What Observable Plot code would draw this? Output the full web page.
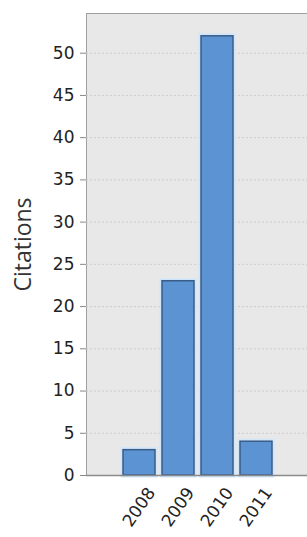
<!DOCTYPE html>
<html>
<head>
<meta charset="utf-8">
<script src="https://cdn.jsdelivr.net/npm/d3@7"></script>
<script src="https://cdn.jsdelivr.net/npm/@observablehq/plot@0.6"></script>
<style>
  html, body { margin: 0; padding: 0; background: #fff; }
  #chart svg { display: block; }
</style>
</head>
<body>
<div id="chart"></div>
<script>
const years = ["2008", "2009", "2010", "2011"];
const citations = [3, 23, 52, 4];
const yTicks = [0, 5, 10, 15, 20, 25, 30, 35, 40, 45, 50];
const yLabel = "Citations";

const data = years.map((year, i) => ({year, citations: citations[i]}));

const chart = Plot.plot({
  width: 307,
  height: 537,
  marginLeft: 86,
  marginRight: -1,
  marginTop: 13,
  marginBottom: 62,
  style: {background: "#fff", fontFamily: "DejaVu Sans", fontSize: "17px", color: "#222"},
  x: {domain: years, paddingInner: 0.19, paddingOuter: 0.885, label: null},
  y: {domain: [0, 54.7], label: null},
  marks: [
    Plot.frame({fill: "#e8e8e8", stroke: "#a0a0a0"}),
    Plot.gridY(yTicks, {stroke: "#cdcdcd", strokeOpacity: 1, strokeDasharray: "2,2"}),
    Plot.barY(data, {x: "year", y: "citations", fill: "none", stroke: "#d2e6fa", strokeWidth: 5}),
    Plot.barY(data, {x: "year", y: "citations", fill: "#5b93d3", stroke: "#3a5d88", strokeWidth: 1.5}),
    Plot.ruleY([0], {stroke: "#8a8a8a", strokeWidth: 1.5}),
    Plot.axisY(yTicks, {
      tickSize: 6, tickPadding: 6, stroke: "#888",
      fontSize: 17, fill: "#222",
      label: yLabel, labelAnchor: "center", labelArrow: "none", labelOffset: 72
    }),
    Plot.axisX({tickSize: 0, tickRotate: -55, tickPadding: 14, dx: 12, fontSize: 17, fill: "#222", label: null})
  ]
});

// style the y-axis label
chart.querySelectorAll("g[aria-label='y-axis label'] text").forEach(t => {
  t.setAttribute("font-family", "Open Sans");
  t.setAttribute("font-size", "23");
  t.setAttribute("fill", "#333");
});

document.getElementById("chart").appendChild(chart);
</script>
</body>
</html>
